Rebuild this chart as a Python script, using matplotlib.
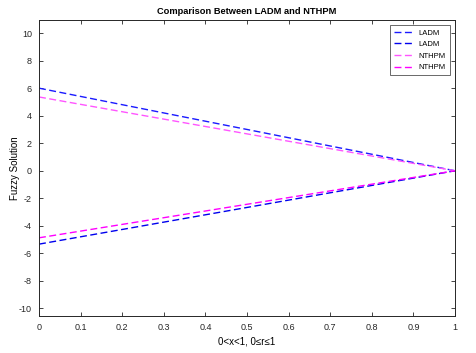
import matplotlib
matplotlib.use("Agg")
import matplotlib.pyplot as plt

plt.rcParams["font.family"] = ["Liberation Sans", "DejaVu Sans"]
plt.rcParams["axes.unicode_minus"] = False

x = [0.0, 1.0]
ladm_upper = [6.0, 0.0]
ladm_lower = [-5.33, 0.0]
nthpm_upper = [5.36, 0.0]
nthpm_lower = [-4.87, 0.0]

xticks = [0, 0.1, 0.2, 0.3, 0.4, 0.5, 0.6, 0.7, 0.8, 0.9, 1]
xtick_labels = ["0", "0.1", "0.2", "0.3", "0.4", "0.5", "0.6", "0.7", "0.8", "0.9", "1"]
yticks = [-10, -8, -6, -4, -2, 0, 2, 4, 6, 8, 10]

fig = plt.figure(figsize=(4.76, 3.53), dpi=100)
ax = fig.add_axes([0.0819, 0.1048, 0.874, 0.8385])

dash = (0, (5, 2.5))
ax.plot(x, ladm_upper, color="#1a1aff", linestyle=dash, linewidth=1.0, label="LADM")
ax.plot(x, ladm_lower, color="#0000ee", linestyle=dash, linewidth=1.0, label="LADM")
ax.plot(x, nthpm_upper, color="#ff55ff", linestyle=dash, linewidth=1.0, label="NTHPM")
ax.plot(x, nthpm_lower, color="#ff00ff", linestyle=dash, linewidth=1.0, label="NTHPM")

ax.set_xlim(0, 1)
ax.set_ylim(-10.55, 10.95)
ax.set_xticks(xticks)
ax.set_xticklabels(xtick_labels)
ax.set_yticks(yticks)
ax.tick_params(direction="in", top=True, right=True, length=3, width=0.6,
               labelsize=6.5, colors="#262626", pad=5)
for sp in ax.spines.values():
    sp.set_color("#262626")
    sp.set_linewidth(0.7)

ax.set_title("Comparison Between LADM and NTHPM", fontsize=6.7, fontweight="bold", pad=4)
ax.set_xlabel("0<x<1, 0\u2264r\u22641", fontsize=7, labelpad=3)
ax.set_ylabel("Fuzzy Solution", fontsize=7)
ax.yaxis.set_label_coords(-0.045, 0.5)

leg = ax.legend(loc="upper right", fontsize=5.5, frameon=True, fancybox=False,
                edgecolor="#262626", handlelength=2.6, handletextpad=0.7,
                borderpad=0.5, labelspacing=0.55, borderaxespad=0.7)
leg.get_frame().set_linewidth(0.6)

fig.savefig("out.png", dpi=100, facecolor="white")
